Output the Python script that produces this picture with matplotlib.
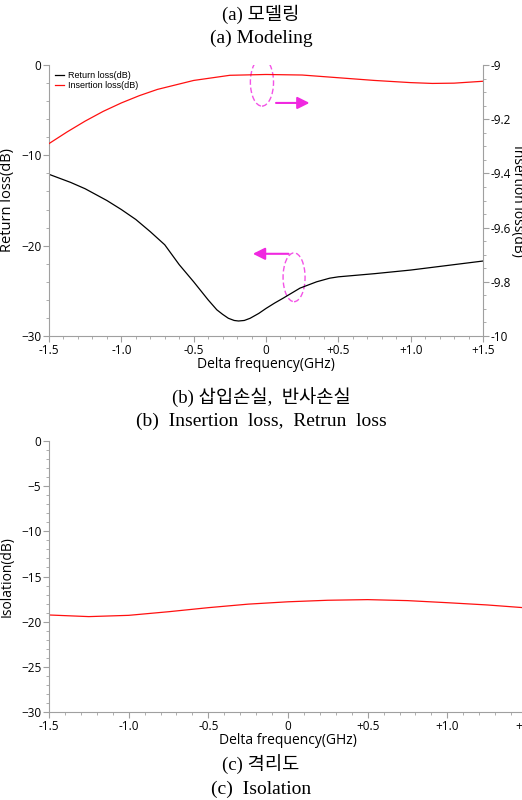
import matplotlib.pyplot as plt
from matplotlib.patches import Ellipse

# (b) return loss / insertion loss
freq_rl = [-1.5, -1.35, -1.25, -1.1, -1.0, -0.9, -0.8, -0.7, -0.6, -0.5, -0.45, -0.4, -0.34, -0.3, -0.26,
           -0.22, -0.19, -0.15, -0.11, -0.05, 0.0, 0.06, 0.12, 0.235, 0.35, 0.44, 0.5, 0.75, 1.0, 1.25, 1.5]
return_loss = [-12.1, -13.0, -13.7, -15.0, -16.0, -17.1, -18.45, -19.9, -22.1, -24.0, -25.0, -26.0, -27.1,
               -27.6, -28.04, -28.28, -28.34, -28.28, -28.04, -27.5, -26.95, -26.35, -25.8, -24.7, -24.0,
               -23.6, -23.45, -23.1, -22.7, -22.2, -21.7]

freq_il = [-1.5, -1.375, -1.25, -1.125, -1.0, -0.875, -0.75, -0.5, -0.25, 0.0, 0.25, 0.5, 0.75, 1.0,
           1.15, 1.3, 1.5]
insertion_loss = [-9.29, -9.247, -9.207, -9.171, -9.14, -9.113, -9.09, -9.057, -9.038, -9.035, -9.037,
                  -9.047, -9.057, -9.065, -9.068, -9.067, -9.06]

# (c) isolation
freq_iso = [-1.5, -1.25, -1.0, -0.75, -0.5, -0.25, 0.0, 0.25, 0.5, 0.75, 1.0, 1.25, 1.5]
isolation = [-19.26, -19.44, -19.3, -18.9, -18.45, -18.06, -17.8, -17.63, -17.56, -17.67, -17.9,
             -18.15, -18.48]

xticks = [-1.5, -1.0, -0.5, 0, 0.5, 1.0, 1.5]
xtick_labels = ['-1.5', '-1.0', '-0.5', '0', '+0.5', '+1.0', '+1.5']

AX_GRAY = '#a0a0a0'
MAGENTA = '#f028e0'
CAP_FONT = ['Liberation Serif', 'Noto Sans CJK KR']

plt.rcParams['font.family'] = ['Open Sans', 'DejaVu Sans']


def style_axis(ax, spines):
    for s in ['left', 'right', 'top', 'bottom']:
        ax.spines[s].set_visible(s in spines)
        ax.spines[s].set_color(AX_GRAY)
    ax.tick_params(which='both', direction='out', color=AX_GRAY, labelsize=8.5, pad=1.5)
    ax.tick_params(which='major', length=4)
    ax.tick_params(which='minor', length=2)


fig = plt.figure(figsize=(5.22, 8.0), dpi=100)

# captions
fig.text(0.5, 1 - 14 / 800, '(a) 모델링', ha='center', va='center', fontsize=13.5, family=CAP_FONT)
fig.text(0.5, 1 - 38 / 800, '(a) Modeling', ha='center', va='center', fontsize=14, family=CAP_FONT)
fig.text(0.5, 1 - 398 / 800, '(b) 삽입손실,  반사손실', ha='center', va='center', fontsize=13.5, family=CAP_FONT)
fig.text(0.5, 1 - 421 / 800, '(b)  Insertion  loss,  Retrun  loss', ha='center', va='center', fontsize=14,
         family=CAP_FONT)
fig.text(0.5, 1 - 765 / 800, '(c) 격리도', ha='center', va='center', fontsize=13.5, family=CAP_FONT)
fig.text(0.5, 1 - 789 / 800, '(c)  Isolation', ha='center', va='center', fontsize=14, family=CAP_FONT)

# ---- top panel ----
ax1 = fig.add_axes([49 / 522, 1 - 336 / 800, 434 / 522, 271 / 800])
ax2 = ax1.twinx()
l1, = ax1.plot(freq_rl, return_loss, color='black', lw=0.9, label='Return loss(dB)')
l2, = ax2.plot(freq_il, insertion_loss, color='#ff1010', lw=0.9, label='Insertion loss(dB)')
ax1.set_xlim(-1.5, 1.5)
ax1.set_ylim(-30, 0)
ax2.set_ylim(-10, -9)
ax1.set_xticks(xticks)
ax1.set_xticklabels(xtick_labels)
ax1.set_xticks([x / 10 for x in range(-15, 16)], minor=True)
ax1.set_yticks([0, -10, -20, -30])
ax1.set_yticks(range(-30, 1, 2), minor=True)
ax2.set_yticks([-9, -9.2, -9.4, -9.6, -9.8, -10])
ax2.set_yticklabels(['-9', '-9.2', '-9.4', '-9.6', '-9.8', '-10'])
ax2.set_yticks([-9 - i / 20 for i in range(21)], minor=True)
style_axis(ax1, ['left', 'bottom'])
style_axis(ax2, ['right'])
ax2.spines['left'].set_visible(False)
ax2.spines['bottom'].set_visible(False)
ax1.set_xlabel('Delta frequency(GHz)', fontsize=10, labelpad=0)
ax1.set_ylabel('Return loss(dB)', fontsize=10.5)
ax1.yaxis.set_label_coords(-0.078, 0.5)
# the reference image crops this label at its right edge
ax2.set_ylabel('Insertion loss(dB)', fontsize=10, rotation=270, va='center')
ax2.yaxis.set_label_coords(1.08, 0.5)
ax1.legend(handles=[l1, l2], loc='upper left', frameon=False, handlelength=1.0,
           handletextpad=0.4, borderaxespad=0.3, labelspacing=0.05,
           prop={'family': ['Liberation Sans'], 'size': 6.5})

# magenta markers pointing to the matching axis
ax1.add_patch(Ellipse((-0.028, -1.9), 0.16, 5.3, fill=False, ec=MAGENTA, ls=(0, (4, 2)), lw=1.0, alpha=0.8))
ax1.add_patch(Ellipse((0.194, -23.5), 0.152, 5.4, fill=False, ec=MAGENTA, ls=(0, (4, 2)), lw=1.0, alpha=0.8))
ax1.annotate('', xy=(0.32, -4.2), xytext=(0.05, -4.2),
             arrowprops=dict(arrowstyle='-|>', color=MAGENTA, lw=1.5, mutation_scale=18))
ax1.annotate('', xy=(-0.11, -20.9), xytext=(0.175, -20.9),
             arrowprops=dict(arrowstyle='-|>', color=MAGENTA, lw=1.5, mutation_scale=18))

# ---- bottom panel ----
ax3 = fig.add_axes([49 / 522, 1 - 712 / 800, 478 / 522, 271 / 800])
ax3.plot(freq_iso, isolation, color='#ff1010', lw=0.9)
ax3.set_xlim(-1.5, 1.5)
ax3.set_ylim(-30, 0)
ax3.set_xticks(xticks)
ax3.set_xticklabels(xtick_labels)
ax3.set_xticks([x / 10 for x in range(-15, 16)], minor=True)
ax3.set_yticks(range(-30, 1, 5))
ax3.set_yticks(range(-30, 1, 1), minor=True)
style_axis(ax3, ['left', 'bottom'])
ax3.set_xlabel('Delta frequency(GHz)', fontsize=10, labelpad=0)
ax3.set_ylabel('Isolation(dB)', fontsize=10)
ax3.yaxis.set_label_coords(-0.071, 0.5)

fig.savefig('out.png', dpi=100)
